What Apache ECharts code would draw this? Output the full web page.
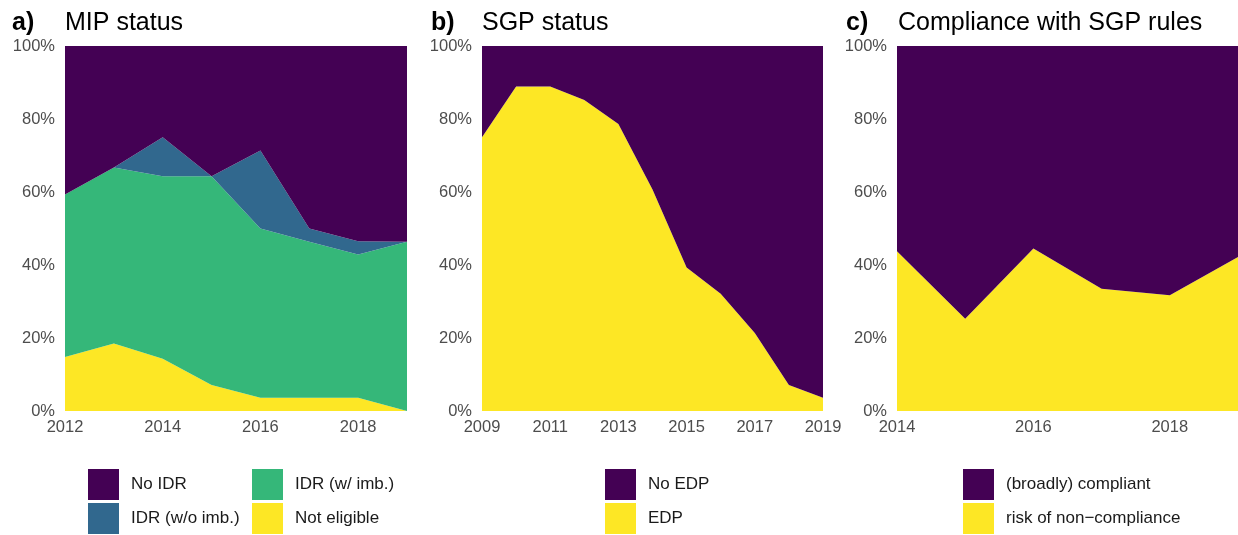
<!DOCTYPE html>
<html>
<head>
<meta charset="utf-8">
<script src="https://cdn.jsdelivr.net/npm/echarts@6/dist/echarts.min.js"></script>
<style>
  html, body { margin: 0; padding: 0; background: #fff; }
  #chart { width: 1238px; height: 535px; }
</style>
</head>
<body>
<div id="chart"></div>
<script>
// Panel a: MIP status (share of countries, %)
const mipYears = ['2012', '2013', '2014', '2015', '2016', '2017', '2018', '2019'];
const notEligible = [14.8, 18.5, 14.3, 7.1, 3.6, 3.6, 3.6, 0];
const idrWithImb = [44.5, 48.2, 50.0, 57.2, 46.4, 42.8, 39.3, 46.4];
const idrWithoutImb = [0, 0, 10.7, 0, 21.4, 3.6, 3.6, 0];
const noIdr = [40.7, 33.3, 25.0, 35.7, 28.6, 50.0, 53.5, 53.6];

// Panel b: SGP status
const sgpYears = ['2009', '2010', '2011', '2012', '2013', '2014', '2015', '2016', '2017', '2018', '2019'];
const edp = [75.0, 88.9, 88.9, 85.2, 78.6, 60.7, 39.3, 32.1, 21.4, 7.1, 3.6];
const noEdp = [25.0, 11.1, 11.1, 14.8, 21.4, 39.3, 60.7, 67.9, 78.6, 92.9, 96.4];

// Panel c: compliance with SGP rules
const compYears = ['2014', '2015', '2016', '2017', '2018', '2019'];
const riskNonCompliance = [43.8, 25.3, 44.5, 33.5, 31.7, 42.2];
const compliant = [56.2, 74.7, 55.5, 66.5, 68.3, 57.8];

// viridis colours
const PURPLE = '#440154';
const BLUE = '#31688E';
const GREEN = '#35B779';
const YELLOW = '#FDE725';

const FONT = 'Liberation Sans';

const chart = echarts.init(document.getElementById('chart'));

const areaSeries = (name, data, color, idx, stack) => ({
    name: name,
    type: 'line',
    stack: stack,
    xAxisIndex: idx,
    yAxisIndex: idx,
    data: data,
    color: color,
    showSymbol: false,
    symbol: 'none',
    lineStyle: { width: 0 },
    areaStyle: { color: color, opacity: 1 },
    emphasis: { disabled: true },
    animation: false,
});

const xAxisFor = (years, idx) => ({
    type: 'category',
    gridIndex: idx,
    data: years,
    boundaryGap: false,
    axisLine: { show: false },
    axisTick: { show: false },
    splitLine: { show: false },
    axisLabel: {
        interval: 1,
        margin: 8,
        color: '#4D4D4D',
        fontSize: 16.5,
        fontFamily: FONT,
    },
});

const yAxisFor = (idx) => ({
    type: 'value',
    gridIndex: idx,
    min: 0,
    max: 100,
    interval: 20,
    axisLine: { show: false },
    axisTick: { show: false },
    splitLine: { show: false },
    axisLabel: {
        formatter: '{value}%',
        margin: 10,
        color: '#4D4D4D',
        fontSize: 16.5,
        fontFamily: FONT,
    },
});

// two stacked rows per legend block
const legendFor = (names, left, colors) => ({
    orient: 'vertical',
    left: left,
    top: 469,
    padding: 0,
    itemWidth: 31,
    itemHeight: 31,
    itemGap: 3,
    icon: 'rect',
    selectedMode: false,
    data: names.map((n, i) => ({ name: n, itemStyle: { color: colors[i] } })),
    textStyle: {
        color: '#1A1A1A',
        fontSize: 17,
        fontFamily: FONT,
        padding: [0, 0, 0, 7],
    },
});

const titleFor = (tag, text, tagLeft, textLeft) => [
    { text: tag, left: tagLeft, top: 11, padding: 0, textStyle: { fontSize: 25, fontWeight: 'bold', color: '#000', fontFamily: FONT } },
    { text: text, left: textLeft, top: 11, padding: 0, textStyle: { fontSize: 25, fontWeight: 'normal', color: '#000', fontFamily: FONT } },
];

const option = {
    backgroundColor: '#fff',
    animation: false,
    title: [
        ...titleFor('a)', 'MIP status', 12, 65),
        ...titleFor('b)', 'SGP status', 431, 482),
        ...titleFor('c)', 'Compliance with SGP rules', 846, 898),
    ],
    grid: [
        { left: 65, top: 46, width: 342, height: 365 },
        { left: 482, top: 46, width: 341, height: 365 },
        { left: 897, top: 46, width: 341, height: 365 },
    ],
    xAxis: [xAxisFor(mipYears, 0), xAxisFor(sgpYears, 1), xAxisFor(compYears, 2)],
    yAxis: [yAxisFor(0), yAxisFor(1), yAxisFor(2)],
    legend: [
        legendFor(['No IDR', 'IDR (w/o imb.)'], 88, [PURPLE, BLUE]),
        legendFor(['IDR (w/ imb.)', 'Not eligible'], 252, [GREEN, YELLOW]),
        legendFor(['No EDP', 'EDP'], 605, [PURPLE, YELLOW]),
        legendFor(['(broadly) compliant', 'risk of non\u2212compliance'], 963, [PURPLE, YELLOW]),
    ],
    series: [
        areaSeries('Not eligible', notEligible, YELLOW, 0, 'mip'),
        areaSeries('IDR (w/ imb.)', idrWithImb, GREEN, 0, 'mip'),
        areaSeries('IDR (w/o imb.)', idrWithoutImb, BLUE, 0, 'mip'),
        areaSeries('No IDR', noIdr, PURPLE, 0, 'mip'),
        areaSeries('EDP', edp, YELLOW, 1, 'sgp'),
        areaSeries('No EDP', noEdp, PURPLE, 1, 'sgp'),
        areaSeries('risk of non\u2212compliance', riskNonCompliance, YELLOW, 2, 'comp'),
        areaSeries('(broadly) compliant', compliant, PURPLE, 2, 'comp'),
    ],
};

chart.setOption(option);
window.addEventListener('resize', () => chart.resize());
</script>
</body>
</html>
